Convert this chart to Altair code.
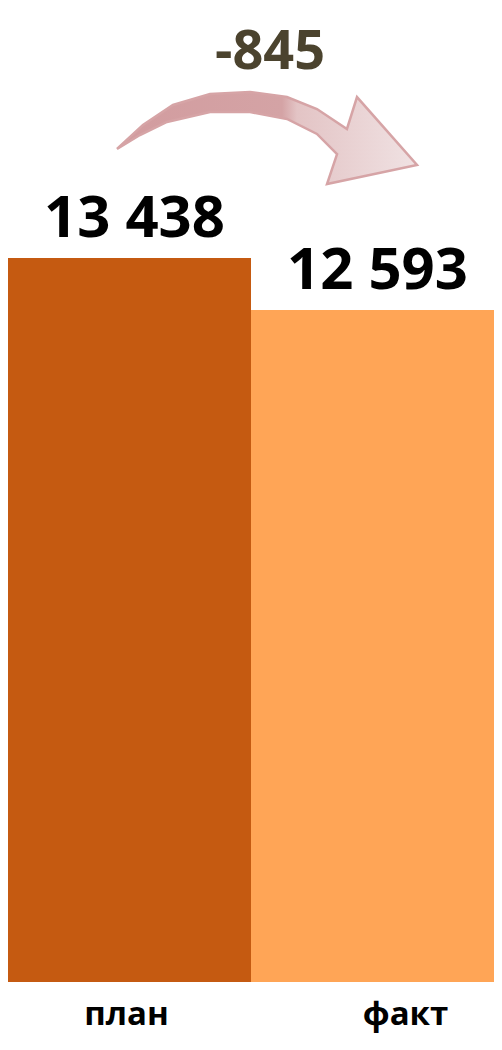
import altair as alt
import pandas as pd

# ---- data ----
categories = ["план", "факт"]
values = [13438, 12593]
bar_colors = ["#C55A11", "#FFA556"]
axis_min = 1670
axis_max = 17500


def fmt(v):
    return f"{v:,}".replace(",", " ")


labels = [fmt(v) for v in values]
delta_label = str(values[1] - values[0])

df = pd.DataFrame({"cat": categories, "value": values, "label": labels})

FONT = "Open Sans"
W, H = 486, 974

# ---- decorative curved arrow shape (normalized -1..1 symbol path) ----
upper = [(-1.0, 0.073), (-0.827, -0.087), (-0.627, -0.22), (-0.38, -0.293),
         (-0.113, -0.307), (0.133, -0.273), (0.333, -0.193), (0.533, -0.06)]
head = [(0.6, -0.273), (1.0, 0.18), (0.4, 0.307), (0.467, 0.107)]
lower = [(0.333, -0.027), (0.133, -0.127), (-0.113, -0.173), (-0.38, -0.173),
         (-0.667, -0.107), (-0.847, -0.02)]
pts = upper + head + lower
arrow_path = "M" + " L".join(f"{px:.3f},{py:.3f}" for px, py in pts) + " Z"

x_enc = alt.X(
    "cat:N",
    sort=categories,
    scale=alt.Scale(paddingInner=0, paddingOuter=0),
    axis=alt.Axis(
        title=None, domain=False, ticks=False, tickSize=0, labelAngle=0,
        labelFont=FONT, labelFontSize=33, labelFontWeight="bold",
        labelColor="#000000", labelBaseline="alphabetic", labelPadding=42,
        labelOffset={"condition": {"test": "datum.value === 'факт'", "value": 33}, "value": -3},
    ),
)
y_enc = alt.Y(
    "value:Q",
    scale=alt.Scale(domain=[axis_min, axis_max], clamp=True, nice=False, zero=False),
    axis=None,
)

base = alt.Chart(df)

bars = base.mark_bar().encode(
    x=x_enc,
    y=y_enc,
    color=alt.Color("cat:N", scale=alt.Scale(domain=categories, range=bar_colors), legend=None),
)

value_text = base.mark_text(
    font=FONT, fontSize=58, fontWeight="bold", color="#000000",
    baseline="alphabetic", align="center", dy=-21, dx=5,
).encode(x=alt.X("cat:N", sort=categories), y=alt.Y("value:Q"), text="label:N")

delta_text = alt.Chart(pd.DataFrame({"t": [delta_label]})).mark_text(
    font=FONT, fontSize=54, fontWeight="bold", color="#4B432E",
    baseline="alphabetic", align="center",
).encode(x=alt.value(262), y=alt.value(61), text="t:N")

arrow_fill = alt.LinearGradient(
    gradient="linear",
    x1=0, y1=0, x2=1, y2=0,
    stops=[
        alt.GradientStop(color="#D29C9F", offset=0),
        alt.GradientStop(color="#D4A3A5", offset=0.55),
        alt.GradientStop(color="#E3C4C5", offset=0.6),
        alt.GradientStop(color="#F0E2E3", offset=1),
    ],
)

arrow = alt.Chart(pd.DataFrame({"k": [0]})).mark_point(
    shape=arrow_path, filled=True, fill=arrow_fill, stroke="#D6A4A6",
    strokeWidth=2.5, strokeJoin="miter", opacity=1,
).encode(x=alt.value(259), y=alt.value(130), size=alt.value(90000))

chart = (
    alt.layer(bars, value_text, arrow, delta_text)
    .properties(
        width=W, height=H,
        padding={"left": 0, "top": 0, "right": 0, "bottom": 54},
        autosize=alt.AutoSizeParams(type="none"),
        background="white",
    )
    .configure_view(stroke=None)
)

chart.save("out.html", embed_options={"renderer": "svg", "actions": False})
